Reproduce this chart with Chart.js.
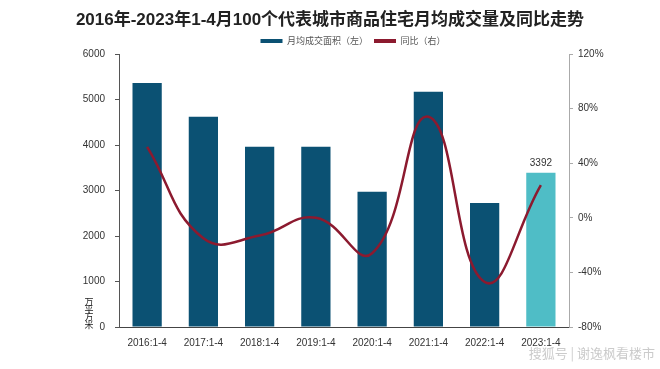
<!DOCTYPE html>
<html><head><meta charset="utf-8">
<script src="https://cdn.jsdelivr.net/npm/chart.js@4"></script>
<style>html,body{margin:0;padding:0;background:#fff}#wrap{width:660px;height:369px}</style>
</head><body><div id="wrap"><canvas id="c" width="660" height="369"></canvas></div>
<script>
const categories = ['2016:1-4','2017:1-4','2018:1-4','2019:1-4','2020:1-4','2021:1-4','2022:1-4','2023:1-4'];
const areaValues = [5360, 4620, 3960, 3960, 2970, 5170, 2725, 3392];
const yoyValues = [52, -15, -13, 0, -26, 74, -47, 24];
const leftTicks = [0, 1000, 2000, 3000, 4000, 5000, 6000];
const rightTicks = [-80, -40, 0, 40, 80, 120];
const titleText = '2016年-2023年1-4月100个代表城市商品住宅月均成交量及同比走势';
const barLabel = '月均成交面积（左）';
const lineLabel = '同比（右）';
const unitLabel = '万平方米';
const watermark = '搜狐号 | 谢逸枫看楼市';

const FONT = '"Liberation Sans", Arial, "Noto Sans CJK SC", sans-serif';
const barColors = areaValues.map((v, i) => i === areaValues.length - 1 ? '#4fbdc6' : '#0b5173');

const extras = {
  id: 'extras',
  afterInit(chart) {
    if (chart.legend) {
      const orig = chart.legend.fit;
      chart.legend.fit = function () { orig.call(this); this.height = 23.6; };
    }
  },
  afterLayout(chart) {
    if (chart.legend) { chart.legend.left += 23; chart.legend.right += 23; }
  },
  afterDatasetsDraw(chart) {
    const ctx = chart.ctx;
    const meta = chart.getDatasetMeta(1);
    const last = meta.data[meta.data.length - 1];
    ctx.save();
    ctx.font = '10px ' + FONT;
    ctx.fillStyle = '#333';
    ctx.textAlign = 'center';
    ctx.textBaseline = 'bottom';
    ctx.fillText(String(areaValues[areaValues.length - 1]), last.x, last.y - 4);
    ctx.restore();
  },
  afterDraw(chart) {
    const ctx = chart.ctx;
    ctx.save();
    ctx.font = '9px "Noto Sans CJK SC", sans-serif';
    ctx.fillStyle = '#222';
    ctx.textAlign = 'center';
    ctx.textBaseline = 'middle';
    const chars = unitLabel.split('');
    chars.forEach((ch, i) => ctx.fillText(ch, 89, 302 + i * 7.5));
    ctx.font = '13px "Noto Sans CJK SC", sans-serif';
    ctx.fillStyle = 'rgba(190,190,190,0.8)';
    ctx.textAlign = 'right';
    ctx.fillText(watermark, 655, 353);
    ctx.restore();
  }
};

new Chart(document.getElementById('c'), {
  data: {
    labels: categories,
    datasets: [
      {
        type: 'line', label: lineLabel, data: yoyValues, yAxisID: 'y1',
        borderColor: '#8c1a2f', backgroundColor: '#8c1a2f', borderWidth: 2.5,
        pointRadius: 0, tension: 0.45, order: 0
      },
      {
        type: 'bar', label: barLabel, data: areaValues, yAxisID: 'y',
        backgroundColor: barColors, borderWidth: 0,
        categoryPercentage: 0.8, barPercentage: 0.65, order: 1
      }
    ]
  },
  options: {
    responsive: false, animation: false,
    layout: { padding: { left: 0, right: 0, top: 0, bottom: 0 } },
    plugins: {
      title: {
        display: true, text: titleText, color: '#222',
        font: { family: FONT, size: 17, weight: 'bold' },
        padding: { top: 10, bottom: 0 }
      },
      legend: {
        display: true, position: 'top',
        labels: {
          color: '#555', font: { family: '"Noto Sans CJK SC", sans-serif', size: 9 },
          boxWidth: 22, boxHeight: 4, padding: 6,
          generateLabels(chart) {
            return [
              { text: barLabel, fillStyle: '#0b5173', strokeStyle: '#0b5173', lineWidth: 0, datasetIndex: 1, fontColor: '#555' },
              { text: lineLabel, fillStyle: '#8c1a2f', strokeStyle: '#8c1a2f', lineWidth: 0, datasetIndex: 0, fontColor: '#555' }
            ];
          }
        }
      },
      tooltip: { enabled: false }
    },
    scales: {
      x: {
        grid: { display: false, drawTicks: false },
        border: { display: true, color: '#444', width: 1 },
        ticks: { color: '#333', font: { family: FONT, size: 10 }, padding: 10, maxRotation: 0 },
        afterFit(s) { s.height = 42; }
      },
      y: {
        position: 'left', min: 0, max: 6000,
        afterBuildTicks(s) { s.ticks = leftTicks.map(v => ({ value: v })); },
        grid: { drawOnChartArea: false, drawTicks: true, tickLength: 4, color: '#555' },
        border: { display: true, color: '#555', width: 1 },
        ticks: { color: '#333', font: { family: FONT, size: 10 }, padding: 10, callback: v => String(v) },
        afterFit(s) { s.width = 119; }
      },
      y1: {
        position: 'right', min: -80, max: 120,
        afterBuildTicks(s) { s.ticks = rightTicks.map(v => ({ value: v })); },
        grid: { drawOnChartArea: false, drawTicks: true, tickLength: 4, color: '#aaa' },
        border: { display: true, color: '#aaa', width: 1 },
        ticks: { color: '#333', font: { family: FONT, size: 10 }, padding: 5, callback: v => v + '%' },
        afterFit(s) { s.width = 91; }
      }
    }
  },
  plugins: [extras]
});
</script></body></html>
